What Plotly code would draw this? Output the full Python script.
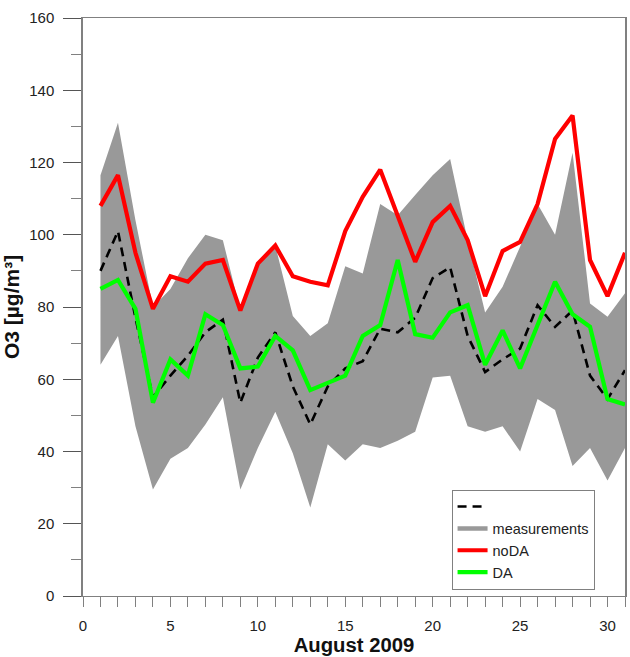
import plotly.graph_objects as go

days = list(range(1, 32))
upper = [116.5,131,104,80,85,93.5,100,98.5,79,92,97,77.5,72,75.5,91.3,89.3,108.5,105.4,111,116.5,121,98.5,78.5,85.6,96.7,108.5,100,122.7,81,77.3,83.8]
lower = [64,72,47,29.5,38,41,47.5,55,29.5,41,51,39.5,24.5,42,37.5,42,41,43,45.5,60.5,61,47,45.5,47,40,54.5,51.5,36,41,32,41]
measured = [90,101,77,55,61,66.5,73,76.5,53.5,66,73,58,47.5,58,63,65,74,73,77,88,91,72,62,65.5,68.5,80.5,74.5,79,61,54.5,62.5]
no_da = [108,116.5,95,79.5,88.5,87,92,93,79,92,97,88.5,87,86,101,110.5,118,105.5,92.5,103.5,108,98.5,83,95.5,98,108.5,126.5,133,93,83,95]
da = [85,87.5,79.5,53.5,65.5,61,78,75,63,63.5,72,68,57,59,61,72,75,93,72.5,71.5,78.5,80.5,64,73.5,63,75,87,78,74.5,54.5,53]

FONT = "Liberation Sans"
GRAY = "#999999"
AXIS = "#808080"

fig = go.Figure()
fig.add_trace(go.Scatter(x=days, y=upper, mode="lines", line=dict(color=GRAY, width=0), showlegend=False, hoverinfo="skip"))
fig.add_trace(go.Scatter(x=days, y=lower, mode="lines", line=dict(color=GRAY, width=0), fill="tonexty", fillcolor=GRAY, showlegend=False, hoverinfo="skip"))
fig.add_trace(go.Scatter(x=days, y=measured, mode="lines", name=" ", line=dict(color="black", width=2.6, dash="9px,6px")))
fig.add_trace(go.Scatter(x=[None], y=[None], mode="lines", name="measurements", line=dict(color=GRAY, width=4.5)))
fig.add_trace(go.Scatter(x=days, y=no_da, mode="lines", name="noDA", line=dict(color="#ff0000", width=4.2)))
fig.add_trace(go.Scatter(x=days, y=da, mode="lines", name="DA", line=dict(color="#00ff00", width=4.2)))

fig.update_layout(
    width=630, height=657, margin=dict(l=83, r=3, t=18, b=61),
    paper_bgcolor="white", plot_bgcolor="white",
    font=dict(family=FONT, size=15, color="#222222"),
    legend=dict(
        x=0.68, y=0.184, xanchor="left", yanchor="top", traceorder="normal",
        bgcolor="white", bordercolor=AXIS, borderwidth=1,
        font=dict(size=14.5, color="#222222"), tracegroupgap=0,
        itemwidth=30, entrywidth=108, entrywidthmode="pixels",
    ),
    xaxis=dict(
        range=[0, 31], tickmode="linear", tick0=0, dtick=5, ticks="outside", ticklen=10,
        tickcolor=AXIS, tickwidth=1, minor=dict(dtick=1, ticks="outside", ticklen=10, tickcolor=AXIS),
        showgrid=False, zeroline=False, showline=True, linecolor=AXIS, linewidth=1, mirror=True,
        ticklabelstandoff=6,
        title=dict(text="<b>August 2009</b>", font=dict(size=20.3, color="#111111"), standoff=4),
    ),
    yaxis=dict(
        range=[0, 160], tickmode="linear", tick0=0, dtick=20, ticks="outside", ticklen=18,
        tickcolor="#555555", tickwidth=1, minor=dict(dtick=10, ticks="outside", ticklen=10, tickcolor=AXIS),
        showgrid=False, zeroline=False, showline=True, linecolor=AXIS, linewidth=1.5, mirror=True,
        ticklabelstandoff=6,
        title=dict(text="<b>O3 [µg/m³]</b>", font=dict(size=21, color="#111111"), standoff=5),
    ),
)
fig.write_html("out.html", config={"displayModeBar": False},
               post_script="document.body.style.margin='0';document.documentElement.style.overflow='hidden';")
